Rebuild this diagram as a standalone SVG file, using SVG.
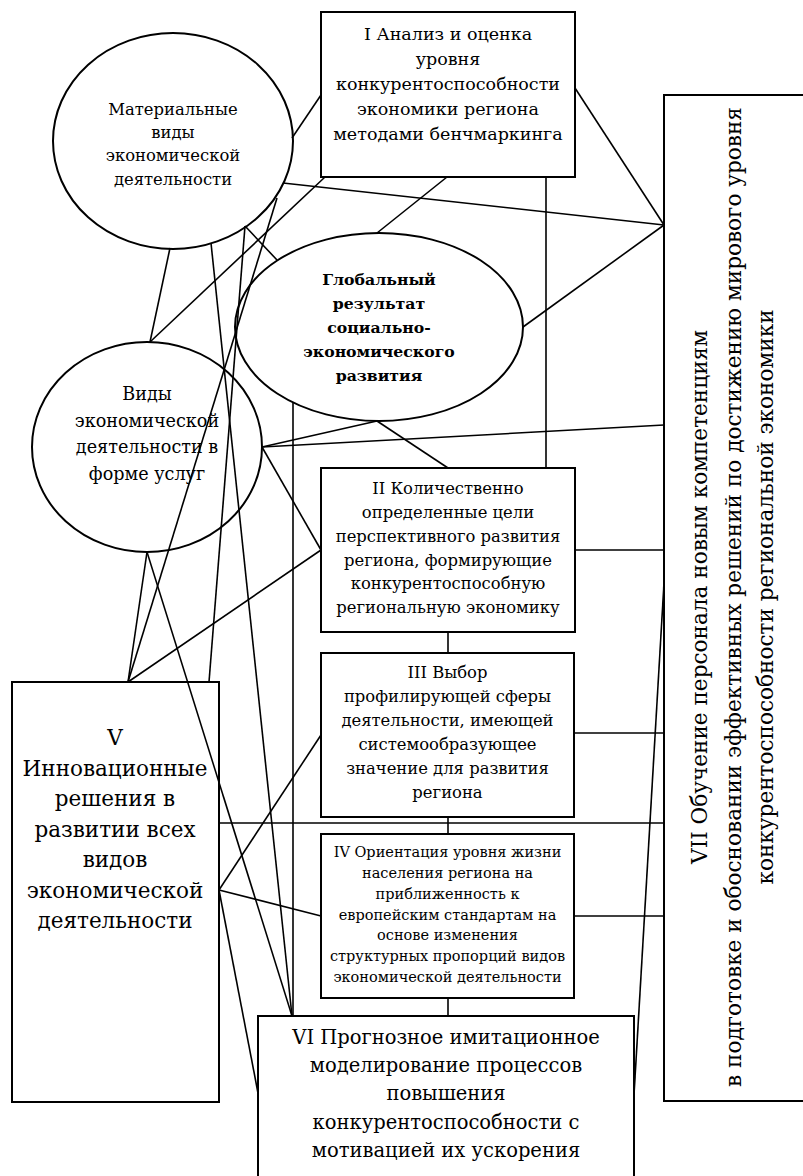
<svg xmlns="http://www.w3.org/2000/svg" width="803" height="1176" viewBox="0 0 803 1176">
  <style>
    .shape { fill: #ffffff; stroke: #000000; stroke-width: 2; }
    .link { stroke: #000000; stroke-width: 1.6; fill: none; }
    .lbl { font-family: 'DejaVu Serif', 'Liberation Serif', serif; fill: #000000; text-anchor: middle; }
    .t17 { font-size: 17.5px; }
    .t16 { font-size: 16.4px; }
    .tb { font-size: 15.7px; font-weight: bold; }
    .t18 { font-size: 17.6px; }
    .t14 { font-size: 14.5px; }
    .t21 { font-size: 21.5px; }
    .t19 { font-size: 19.5px; }
    .tv { font-size: 21.6px; }
  </style>
  <rect width="803" height="1176" fill="#ffffff"/>

  <!-- shapes -->
  <g id="node-material"><ellipse class="shape" cx="173" cy="141" rx="120" ry="108"/></g>
  <g id="node-global"><ellipse class="shape" cx="379" cy="327" rx="144" ry="94"/></g>
  <g id="node-services"><ellipse class="shape" cx="147" cy="447" rx="115" ry="105"/></g>
  <g id="node-1"><rect class="shape" x="321" y="12" width="254" height="165"/></g>
  <g id="node-2"><rect class="shape" x="321" y="468" width="254" height="164"/></g>
  <g id="node-3"><rect class="shape" x="321" y="653" width="253" height="164"/></g>
  <g id="node-4"><rect class="shape" x="321" y="834" width="253" height="164"/></g>
  <g id="node-5"><rect class="shape" x="12" y="682" width="207" height="420"/></g>
  <g id="node-6"><rect class="shape" x="258" y="1016" width="376" height="172"/></g>
  <g id="node-7"><rect class="shape" x="664" y="95" width="145" height="1006"/></g>

  <!-- connectors -->
  <g id="connectors" class="link">
    <line x1="292" y1="138" x2="321" y2="95"/>
    <line x1="283" y1="183" x2="664" y2="225"/>
    <line x1="575" y1="88" x2="664" y2="225"/>
    <line x1="523" y1="327" x2="664" y2="225"/>
    <line x1="325" y1="177" x2="150" y2="342"/>
    <line x1="447" y1="177" x2="377" y2="233"/>
    <line x1="546" y1="177" x2="546" y2="468"/>
    <line x1="170" y1="248" x2="150" y2="342"/>
    <line x1="211" y1="243" x2="292" y2="1016"/>
    <line x1="245" y1="226" x2="209" y2="682"/>
    <line x1="245" y1="226" x2="277" y2="260"/>
    <line x1="277" y1="198" x2="128" y2="682"/>
    <line x1="293" y1="402" x2="293" y2="1016"/>
    <line x1="262" y1="447" x2="377" y2="421"/>
    <line x1="377" y1="421" x2="448" y2="468"/>
    <line x1="262" y1="447" x2="664" y2="425"/>
    <line x1="262" y1="447" x2="321" y2="550"/>
    <line x1="321" y1="550" x2="128" y2="682"/>
    <line x1="147" y1="552" x2="128" y2="682"/>
    <line x1="147" y1="552" x2="292" y2="1016"/>
    <line x1="575" y1="550" x2="664" y2="550"/>
    <line x1="448" y1="632" x2="448" y2="653"/>
    <line x1="574" y1="733" x2="664" y2="733"/>
    <line x1="448" y1="817" x2="448" y2="834"/>
    <line x1="219" y1="823" x2="664" y2="823"/>
    <line x1="219" y1="890" x2="321" y2="735"/>
    <line x1="219" y1="890" x2="321" y2="916"/>
    <line x1="219" y1="890" x2="258" y2="1093"/>
    <line x1="574" y1="916" x2="664" y2="916"/>
    <line x1="448" y1="998" x2="448" y2="1016"/>
    <line x1="664" y1="583" x2="634" y2="1095"/>
  </g>

  <!-- labels -->
  <g id="label-material" class="lbl t16">
    <text x="173" y="115">Материальные</text>
    <text x="173" y="138">виды</text>
    <text x="173" y="161">экономической</text>
    <text x="173" y="185">деятельности</text>
  </g>
  <g id="label-global" class="lbl tb">
    <text x="379" y="285">Глобальный</text>
    <text x="379" y="309">результат</text>
    <text x="379" y="333">социально-</text>
    <text x="379" y="357">экономического</text>
    <text x="379" y="381">развития</text>
  </g>
  <g id="label-services" class="lbl t18">
    <text x="147" y="400">Виды</text>
    <text x="147" y="427">экономической</text>
    <text x="147" y="453">деятельности в</text>
    <text x="147" y="480">форме услуг</text>
  </g>
  <g id="label-1" class="lbl t17">
    <text x="448" y="40">I Анализ и оценка</text>
    <text x="448" y="65">уровня</text>
    <text x="448" y="90">конкурентоспособности</text>
    <text x="448" y="115">экономики региона</text>
    <text x="448" y="140">методами бенчмаркинга</text>
  </g>
  <g id="label-2" class="lbl t16">
    <text x="448" y="494">II Количественно</text>
    <text x="448" y="518">определенные цели</text>
    <text x="448" y="542">перспективного развития</text>
    <text x="448" y="566">региона, формирующие</text>
    <text x="448" y="589">конкурентоспособную</text>
    <text x="448" y="613">региональную экономику</text>
  </g>
  <g id="label-3" class="lbl t16">
    <text x="447.5" y="678">III Выбор</text>
    <text x="447.5" y="702">профилирующей сферы</text>
    <text x="447.5" y="726">деятельности, имеющей</text>
    <text x="447.5" y="750">системообразующее</text>
    <text x="447.5" y="774">значение для развития</text>
    <text x="447.5" y="798">региона</text>
  </g>
  <g id="label-4" class="lbl t14">
    <text x="447.5" y="857">IV Ориентация уровня жизни</text>
    <text x="447.5" y="878">населения региона на</text>
    <text x="447.5" y="899">приближенность к</text>
    <text x="447.5" y="920">европейским стандартам на</text>
    <text x="447.5" y="940">основе изменения</text>
    <text x="447.5" y="961">структурных пропорций видов</text>
    <text x="447.5" y="982">экономической деятельности</text>
  </g>
  <g id="label-5" class="lbl t21">
    <text x="115" y="745">V</text>
    <text x="115" y="776">Инновационные</text>
    <text x="115" y="806">решения в</text>
    <text x="115" y="837">развитии всех</text>
    <text x="115" y="867">видов</text>
    <text x="115" y="898">экономической</text>
    <text x="115" y="928">деятельности</text>
  </g>
  <g id="label-6" class="lbl t19">
    <text x="446" y="1044">VI Прогнозное имитационное</text>
    <text x="446" y="1072">моделирование процессов</text>
    <text x="446" y="1100">повышения</text>
    <text x="446" y="1129">конкурентоспособности с</text>
    <text x="446" y="1157">мотивацией их ускорения</text>
  </g>
  <g id="label-7" class="lbl tv" transform="rotate(-90)">
    <text x="-597" y="707">VII Обучение персонала новым компетенциям</text>
    <text x="-597" y="741">в подготовке и обосновании эффективных решений по достижению мирового уровня</text>
    <text x="-597" y="773">конкурентоспособности региональной экономики</text>
  </g>
</svg>
